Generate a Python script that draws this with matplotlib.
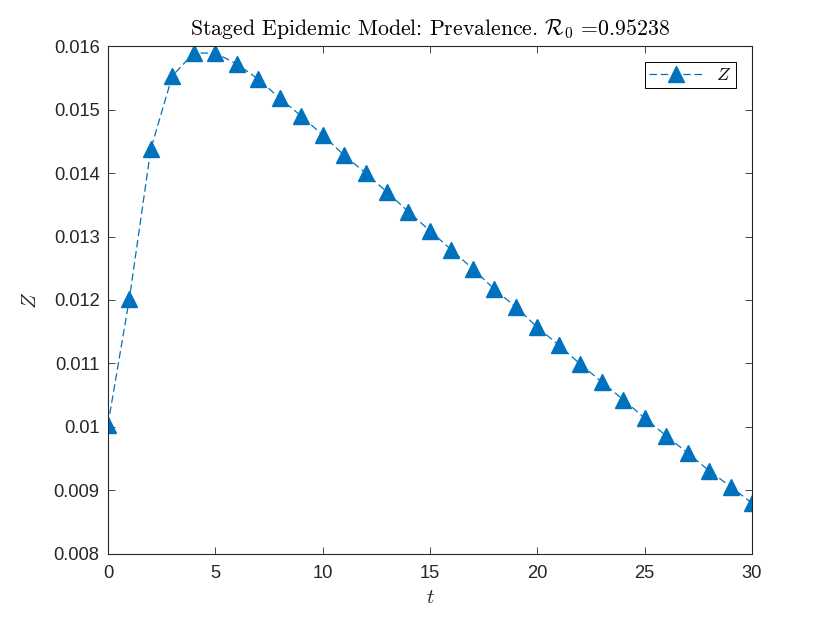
import matplotlib
matplotlib.use("Agg")
import matplotlib.pyplot as plt

plt.rcParams['mathtext.fontset'] = 'cm'
plt.rcParams['font.family'] = ['Liberation Sans', 'DejaVu Sans']

t = list(range(0, 31))
Z = [0.01003, 0.01202, 0.01438, 0.01553, 0.01589, 0.01589, 0.01572, 0.01548,
     0.01518, 0.01490, 0.01460, 0.01428, 0.01400, 0.01370, 0.01339, 0.01309,
     0.01279, 0.01249, 0.01217, 0.01189, 0.01157, 0.01129, 0.01099, 0.01071,
     0.01043, 0.01014, 0.00986, 0.00959, 0.00931, 0.00906, 0.00880]
xticks = [0, 5, 10, 15, 20, 25, 30]
yticks = [0.008, 0.009, 0.010, 0.011, 0.012, 0.013, 0.014, 0.015, 0.016]
yticklabels = ['0.008', '0.009', '0.01', '0.011', '0.012', '0.013', '0.014', '0.015', '0.016']

fig = plt.figure(figsize=(8.3, 6.23), dpi=100)
ax = fig.add_axes([0.130, 0.111, 0.776, 0.815])
col = '#0072BD'
ax.plot(t, Z, linestyle=(0, (6, 3)), color=col, linewidth=0.9, marker='^',
        markersize=11, markerfacecolor=col, markeredgecolor=col, label='$Z$')
ax.set_xlim(0, 30)
ax.set_ylim(0.008, 0.016)
ax.set_xticks(xticks)
ax.set_yticks(yticks)
ax.set_yticklabels(yticklabels)
axc = '#262626'
ax.tick_params(direction='in', top=True, right=True, length=5, width=0.6,
               colors=axc, labelsize=13.2)
ax.tick_params(axis='x', pad=8)
ax.tick_params(axis='y', pad=6)
for s in ax.spines.values():
    s.set_color(axc)
    s.set_linewidth(0.8)
ax.set_xlabel('$t$', fontsize=15, color=axc, labelpad=4)
ax.set_ylabel('$Z$', fontsize=15, color=axc, labelpad=10)
ax.set_title(r'Staged Epidemic Model: Prevalence. $\mathcal{R}_0$ =0.95238',
             fontsize=15.7, color='black', pad=8, family='cmr10')
leg = ax.legend(loc='upper right', fancybox=False, edgecolor='black', framealpha=1,
                fontsize=13, handlelength=2.9, borderpad=0.25, borderaxespad=0.9)
leg.get_frame().set_linewidth(0.7)
fig.savefig('out.png', dpi=100)
